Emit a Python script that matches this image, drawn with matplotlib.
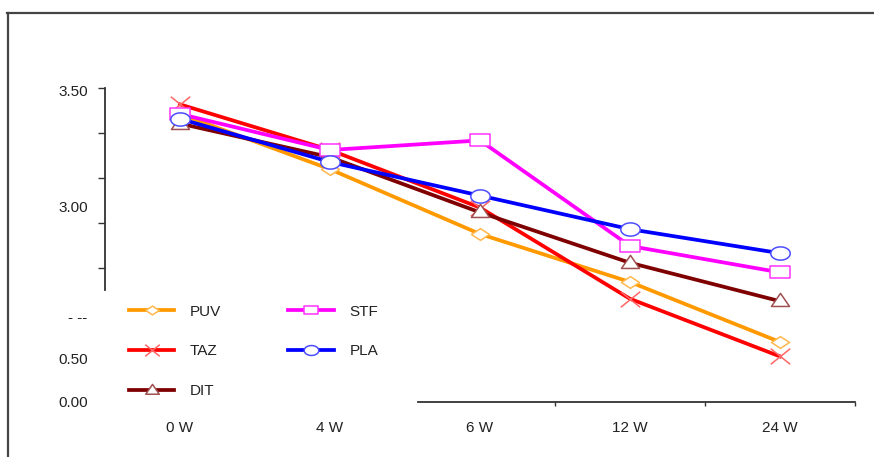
import matplotlib
matplotlib.use("Agg")
import matplotlib.pyplot as plt
import numpy as np
from matplotlib.path import Path
from matplotlib.lines import Line2D

plt.rcParams['font.family'] = ['Liberation Sans', 'DejaVu Sans']

# data
weeks = ["0 W", "4 W", "6 W", "12 W", "24 W"]
puv = [3.40, 3.17, 2.90, 2.70, 2.45]
taz = [3.44, 3.25, 3.01, 2.63, 2.39]
dit = [3.36, 3.22, 2.99, 2.78, 2.62]
stf = [3.40, 3.25, 3.29, 2.85, 2.74]
pla = [3.38, 3.20, 3.06, 2.92, 2.82]

ytick_labels = ["3.50", "3.00", "- --", "0.50", "0.00"]
ytick_label_pos = [3.49, 3.01, 2.55, 2.375, 2.195]

# custom (stretched) markers
t = np.linspace(0, 2 * np.pi, 60)
ellipse = Path(np.column_stack([np.cos(t), 0.68 * np.sin(t)]), closed=True)
rect = Path([(-1, -0.6), (1, -0.6), (1, 0.6), (-1, 0.6), (-1, -0.6)], closed=True)
tri = Path([(-1, -0.55), (1, -0.55), (0, 0.9), (-1, -0.55)], closed=True)
diam = Path([(-1, 0), (0, 0.65), (1, 0), (0, -0.65), (-1, 0)], closed=True)
cross = Path([(-1, -0.8), (1, 0.8), (-1, 0.8), (1, -0.8)],
             [Path.MOVETO, Path.LINETO, Path.MOVETO, Path.LINETO])

fig = plt.figure(figsize=(8.74, 4.57), dpi=100)
ax = fig.add_axes([105 / 874, 55 / 457, 750 / 874, 314 / 457])
ax.set_xlim(-0.5, 4.5)
ax.set_ylim(2.2, 3.5083)

x = np.arange(len(weeks))
series = [
    ("PUV", puv, "#FF9900", "#FFB84D", diam, 13, "white"),
    ("TAZ", taz, "#FF0000", "#FF6666", cross, 14, "none"),
    ("DIT", dit, "#7F0000", "#A05050", tri, 13, "white"),
    ("STF", stf, "#FF00FF", "#FF33FF", rect, 14, "white"),
    ("PLA", pla, "#0000FF", "#4D4DFF", ellipse, 14, "white"),
]
for name, vals, lc, mc, mk, ms, mf in series:
    ax.plot(x, vals, color=lc, lw=2.7, marker=mk, markersize=ms,
            markeredgecolor=mc, markerfacecolor=mf, markeredgewidth=1.1,
            label=name)

# axes styling
for s in ["top", "right"]:
    ax.spines[s].set_visible(False)
ax.spines["left"].set_bounds(2.667, 3.5083)
ax.spines["bottom"].set_bounds(1.587, 4.5)
for s in ["left", "bottom"]:
    ax.spines[s].set_color("#333333")
    ax.spines[s].set_linewidth(1.3)

ax.set_yticks([2.7583, 2.9458, 3.1333, 3.3208, 3.5083])
ax.set_yticklabels([])
ax.tick_params(axis="y", length=5, width=1.0, color="#333333")

ax.set_xticks([2.5, 3.5, 4.5])
ax.set_xticklabels([])
ax.tick_params(axis="x", which="major", length=3, width=1.0, color="#333333")
ax.set_xticks(x, minor=True)
ax.set_xticklabels(weeks, minor=True, fontsize=11, color="#222222")
ax.tick_params(axis="x", which="minor", length=0, pad=14)

for lab, pos in zip(ytick_labels, ytick_label_pos):
    ax.text(-0.023, pos, lab, transform=ax.get_yaxis_transform(),
            ha="right", va="center", fontsize=11, color="#222222")

leg = fig.legend(loc="upper left", bbox_to_anchor=(121 / 874, 1 - 297 / 457),
                 ncol=2, frameon=False, fontsize=11, handlelength=3.0,
                 handletextpad=1.0, columnspacing=4.4, labelspacing=1.68,
                 borderpad=0, markerscale=0.75)
for txt in leg.get_texts():
    txt.set_color("#222222")

# outer frame (cut at right and bottom)
fig.add_artist(Line2D([7 / 874, 1], [1 - 13 / 457] * 2, transform=fig.transFigure,
                      color="#444444", lw=1.6))
fig.add_artist(Line2D([8 / 874] * 2, [0, 1 - 13 / 457], transform=fig.transFigure,
                      color="#444444", lw=1.6))

fig.savefig("out.png", dpi=100)
